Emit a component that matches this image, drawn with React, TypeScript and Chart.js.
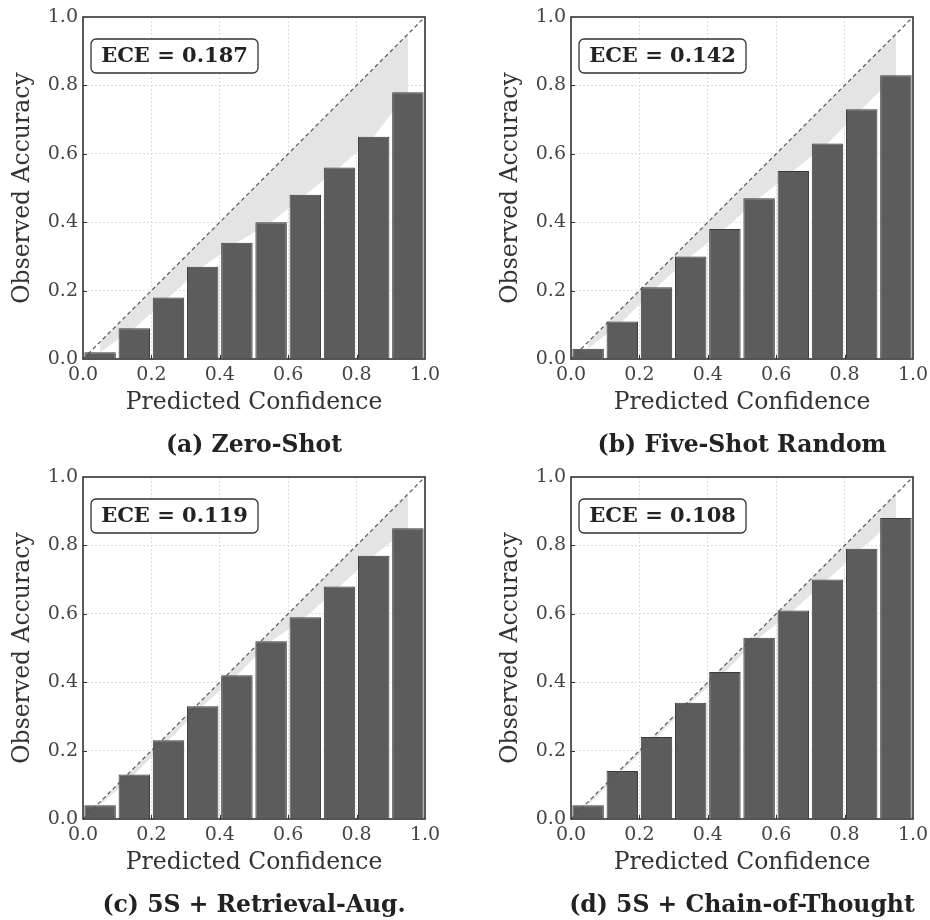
import React, { useEffect, useRef } from "react";
import { Chart, registerables } from "chart.js";

Chart.register(...registerables);

const binCenters = [0.05, 0.15, 0.25, 0.35, 0.45, 0.55, 0.65, 0.75, 0.85, 0.95];
const zeroShot = [0.02, 0.09, 0.18, 0.27, 0.34, 0.4, 0.48, 0.56, 0.65, 0.78];
const fiveShotRandom = [0.03, 0.11, 0.21, 0.3, 0.38, 0.47, 0.55, 0.63, 0.73, 0.83];
const retrievalAug = [0.04, 0.13, 0.23, 0.33, 0.42, 0.52, 0.59, 0.68, 0.77, 0.85];
const chainOfThought = [0.04, 0.14, 0.24, 0.34, 0.43, 0.53, 0.61, 0.7, 0.79, 0.88];
const eceLabels = ["ECE = 0.187", "ECE = 0.142", "ECE = 0.119", "ECE = 0.108"];
const panelTitles = [
  "(a) Zero-Shot",
  "(b) Five-Shot Random",
  "(c) 5S + Retrieval-Aug.",
  "(d) 5S + Chain-of-Thought",
];
const xAxisTitle = "Predicted Confidence";
const yAxisTitle = "Observed Accuracy";

const FONT = "'DejaVu Serif', serif";
const W = 442;
const H = 460;

function Panel({ acc, ece, title, left, top }: { acc: number[]; ece: string; title: string; left: number; top: number }) {
  const ref = useRef<HTMLCanvasElement>(null);
  useEffect(() => {
    const decor = {
      id: "decor",
      afterDatasetsDraw(chart: any) {
        const { ctx, chartArea: a, scales } = chart;
        ctx.save();
        // inward ticks
        ctx.strokeStyle = "#333";
        ctx.lineWidth = 1;
        [0.2, 0.4, 0.6, 0.8].forEach((v) => {
          const px = Math.round(scales.x.getPixelForValue(v)) + 0.5;
          ctx.beginPath();
          ctx.moveTo(px, a.bottom);
          ctx.lineTo(px, a.bottom - 4);
          ctx.stroke();
          const py = Math.round(scales.y.getPixelForValue(v)) + 0.5;
          ctx.beginPath();
          ctx.moveTo(a.left, py);
          ctx.lineTo(a.left + 4, py);
          ctx.stroke();
        });
        // frame
        ctx.strokeStyle = "#333";
        ctx.lineWidth = 1.6;
        ctx.strokeRect(a.left, a.top, a.right - a.left, a.bottom - a.top);
        // ECE box
        const bx = a.left + 8;
        const by = a.top + 22;
        const bw = 167;
        const bh = 34;
        ctx.beginPath();
        (ctx as any).roundRect(bx, by, bw, bh, 5);
        ctx.fillStyle = "#ffffff";
        ctx.fill();
        ctx.lineWidth = 1.3;
        ctx.strokeStyle = "#333";
        ctx.stroke();
        ctx.fillStyle = "#222";
        ctx.font = `bold 21px ${FONT}`;
        ctx.textAlign = "center";
        ctx.textBaseline = "middle";
        ctx.fillText(ece, bx + bw / 2, by + bh / 2 + 1);
        // subtitle
        ctx.font = `bold 23.5px ${FONT}`;
        ctx.fillStyle = "#222";
        ctx.fillText(title, (a.left + a.right) / 2, 446);
        ctx.restore();
      },
    };

    const chart = new Chart(ref.current as HTMLCanvasElement, {
      type: "bar",
      data: {
        datasets: [
          {
            type: "line",
            data: [
              { x: 0, y: 0 },
              { x: 1, y: 1 },
            ],
            borderColor: "#555",
            borderWidth: 1.2,
            borderDash: [4, 3],
            pointRadius: 0,
            fill: false,
            order: 0,
          } as any,
          {
            type: "bar",
            data: binCenters.map((c, i) => ({ x: c, y: acc[i] })),
            backgroundColor: "#5c5c5c",
            borderColor: "#3a3a3a",
            borderWidth: 1,
            borderSkipped: "start",
            categoryPercentage: 0.92,
            barPercentage: 1,
            order: 1,
          } as any,
          {
            type: "line",
            data: binCenters.map((c, i) => ({ x: c, y: acc[i] })),
            borderWidth: 0,
            borderColor: "rgba(0,0,0,0)",
            pointRadius: 0,
            fill: false,
            order: 3,
          } as any,
          {
            type: "line",
            data: binCenters.map((c) => ({ x: c, y: c })),
            borderWidth: 0,
            borderColor: "rgba(0,0,0,0)",
            pointRadius: 0,
            fill: "-1",
            backgroundColor: "#e4e4e4",
            order: 2,
          } as any,
        ],
      },
      options: {
        animation: false,
        responsive: false,
        devicePixelRatio: 1,
        layout: { padding: { left: 0, top: 17, right: 17, bottom: 0 } },
        plugins: { legend: { display: false }, tooltip: { enabled: false }, title: { display: false } },
        scales: {
          x: {
            type: "linear",
            min: 0,
            max: 1,
            offset: false,
            afterFit: (s: any) => {
              s.height = 101;
              s.paddingRight = 0;
              s.paddingLeft = 0;
            },
            ticks: {
              stepSize: 0.2,
              autoSkip: false,
              maxRotation: 0,
              padding: 5,
              color: "#444",
              font: { family: FONT, size: 19 },
              callback: (v: any) => Number(v).toFixed(1),
            },
            grid: { color: "#dcdcdc", lineWidth: 1, drawTicks: false, offset: false },
            border: { display: false, dash: [2, 2] },
            title: {
              display: true,
              text: xAxisTitle,
              color: "#333",
              font: { family: FONT, size: 23.5 },
              padding: { top: 0, bottom: 43 },
            },
          },
          y: {
            type: "linear",
            min: 0,
            max: 1,
            afterFit: (s: any) => {
              s.width = 83;
              s.paddingTop = 0;
              s.paddingBottom = 0;
            },
            ticks: {
              stepSize: 0.2,
              padding: 5,
              color: "#444",
              font: { family: FONT, size: 19 },
              callback: (v: any) => Number(v).toFixed(1),
            },
            grid: { color: "#dcdcdc", lineWidth: 1, drawTicks: false },
            border: { display: false, dash: [2, 2] },
            title: {
              display: true,
              text: yAxisTitle,
              color: "#333",
              font: { family: FONT, size: 23.5 },
              padding: { top: 9, bottom: 0 },
            },
          },
        },
      } as any,
      plugins: [decor],
    });
    return () => chart.destroy();
  }, [acc, ece, title]);

  return (
    <canvas
      ref={ref}
      width={W}
      height={H}
      style={{ position: "absolute", left, top, width: W, height: H }}
    />
  );
}

export default function App() {
  return (
    <div style={{ position: "absolute", left: 0, top: 0, width: 930, height: 920, background: "#fff" }}>
      <Panel acc={zeroShot} ece={eceLabels[0]} title={panelTitles[0]} left={0} top={0} />
      <Panel acc={fiveShotRandom} ece={eceLabels[1]} title={panelTitles[1]} left={488} top={0} />
      <Panel acc={retrievalAug} ece={eceLabels[2]} title={panelTitles[2]} left={0} top={460} />
      <Panel acc={chainOfThought} ece={eceLabels[3]} title={panelTitles[3]} left={488} top={460} />
    </div>
  );
}
